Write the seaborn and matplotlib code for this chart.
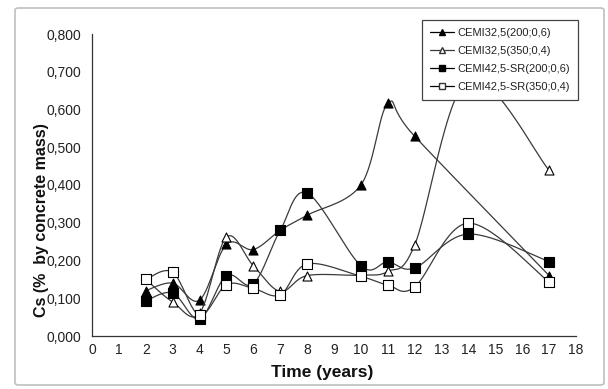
import numpy as np
import pandas as pd
import matplotlib
matplotlib.use("Agg")
import matplotlib.pyplot as plt
from matplotlib.lines import Line2D
from matplotlib.patches import FancyBboxPatch
import seaborn as sns

# Surface chloride content (Cs) measured over exposure time
labels = ["CEMI32,5(200;0,6)", "CEMI32,5(350;0,4)",
          "CEMI42,5-SR(200;0,6)", "CEMI42,5-SR(350;0,4)"]

years_a = [2, 3, 4, 5, 6, 7, 8, 10, 11, 12, 17]
cs_a = [0.120, 0.140, 0.095, 0.243, 0.229, 0.280, 0.320, 0.400, 0.616, 0.529, 0.160]

years_b = [2, 3, 4, 5, 6, 7, 8, 10, 11, 12, 14, 17]
cs_b = [0.150, 0.090, 0.060, 0.262, 0.186, 0.118, 0.160, 0.161, 0.171, 0.241, 0.680, 0.439]

years_c = [2, 3, 4, 5, 6, 7, 8, 10, 11, 12, 14, 17]
cs_c = [0.093, 0.114, 0.045, 0.160, 0.138, 0.280, 0.379, 0.186, 0.196, 0.180, 0.270, 0.197]

years_d = [2, 3, 4, 5, 6, 7, 8, 10, 11, 12, 14, 17]
cs_d = [0.150, 0.169, 0.055, 0.136, 0.126, 0.109, 0.191, 0.158, 0.135, 0.130, 0.299, 0.143]

x_ticks = list(range(0, 19))
y_ticks = [0.0, 0.1, 0.2, 0.3, 0.4, 0.5, 0.6, 0.7, 0.8]


def smooth(xs, ys, n=30):
    """Bezier smoothing with Catmull-Rom control points (spreadsheet-style)."""
    P = np.column_stack([xs, ys]).astype(float)
    ext = np.vstack([P[0], P, P[-1]])
    out = []
    t = np.linspace(0, 1, n)[:, None]
    for i in range(len(P) - 1):
        p0, p1, p2, p3 = ext[i], ext[i + 1], ext[i + 2], ext[i + 3]
        c1 = p1 + (p2 - p0) / 6.0
        c2 = p2 - (p3 - p1) / 6.0
        seg = ((1 - t) ** 3) * p1 + 3 * ((1 - t) ** 2) * t * c1 \
            + 3 * (1 - t) * t ** 2 * c2 + t ** 3 * p2
        out.append(seg if i == 0 else seg[1:])
    s = np.vstack(out)
    return s[:, 0], s[:, 1]


sns.set_style("white")
plt.rcParams["font.family"] = ["Liberation Sans", "DejaVu Sans"]

fig = plt.figure(figsize=(6.08, 3.89), dpi=100)
ax = fig.add_axes([92 / 608, 1 - 336 / 389, 484 / 608, 302 / 389])

# light chart-area frame
fig.patches.append(FancyBboxPatch((15 / 608, 4 / 389), 589 / 608, 377 / 389,
                                  boxstyle="round,pad=0,rounding_size=0.006",
                                  transform=fig.transFigure, fill=False,
                                  edgecolor="#c4c4c4", lw=1.3, zorder=0))

series = [
    (years_a, cs_a, "^", "black", 6.5),
    (years_b, cs_b, "^", "white", 6.5),
    (years_c, cs_c, "s", "black", 7.5),
    (years_d, cs_d, "s", "white", 7.5),
]
line_col = "#3a3a3a"
for k, (xs, ys, mk, fc, ms) in enumerate(series):
    sx, sy = smooth(xs, ys)
    df = pd.DataFrame({"x": sx, "y": sy})
    sns.lineplot(data=df, x="x", y="y", sort=False, estimator=None,
                 color=line_col, lw=0.9, ax=ax, zorder=2 + k)
    sns.scatterplot(x=xs, y=ys, marker=mk, s=ms ** 2, color=fc,
                    edgecolor="black", linewidth=0.8, ax=ax, zorder=2.5 + k)

ax.set_xlim(0, 18)
ax.set_ylim(0, 0.8)
ax.set_xticks(x_ticks)
ax.set_yticks(y_ticks)
ax.set_yticklabels([f"{v:.3f}".replace(".", ",") for v in y_ticks])
ax.tick_params(axis="x", direction="in", length=4, width=0.9, color="#333333",
               labelsize=10, labelcolor="#222222", pad=5)
ax.tick_params(axis="y", direction="out", length=4, width=0.9, color="#333333",
               labelsize=10, labelcolor="#222222", pad=4)
for side in ["top", "right"]:
    ax.spines[side].set_visible(False)
for side in ["left", "bottom"]:
    ax.spines[side].set_color("#333333")
    ax.spines[side].set_linewidth(0.9)

ax.set_xlabel("Time (years)", fontsize=12.5, fontweight="bold", color="#111111")
ax.set_ylabel("Cs (%  by concrete mass)", fontsize=11.5, fontweight="bold",
              color="#111111")
ax.xaxis.set_label_coords(0.475, -0.12)
ax.yaxis.set_label_coords(-0.105, 0.385)
ax.xaxis.label.set_va("center")
ax.yaxis.label.set_va("center")

handles = [
    Line2D([], [], color="black", lw=0.9, marker="^", ms=4, mfc="black", mec="black"),
    Line2D([], [], color=line_col, lw=0.9, marker="^", ms=4, mfc="white", mec="#333333"),
    Line2D([], [], color="black", lw=0.9, marker="s", ms=4, mfc="black", mec="black"),
    Line2D([], [], color="black", lw=0.9, marker="s", ms=4, mfc="white", mec="#333333"),
]
leg = ax.legend(handles, labels, loc="upper left",
                bbox_to_anchor=((422 - 92) / 484, (336 - 20) / 302),
                fontsize=8, frameon=True, fancybox=False, framealpha=1,
                edgecolor="#444444", handlelength=2.2, handletextpad=0.3,
                labelspacing=0.72, borderpad=0.72, borderaxespad=0)
leg.get_frame().set_linewidth(0.9)
leg.set_zorder(10)
for t in leg.get_texts():
    t.set_color("#222222")

fig.savefig("out.png", dpi=100)
